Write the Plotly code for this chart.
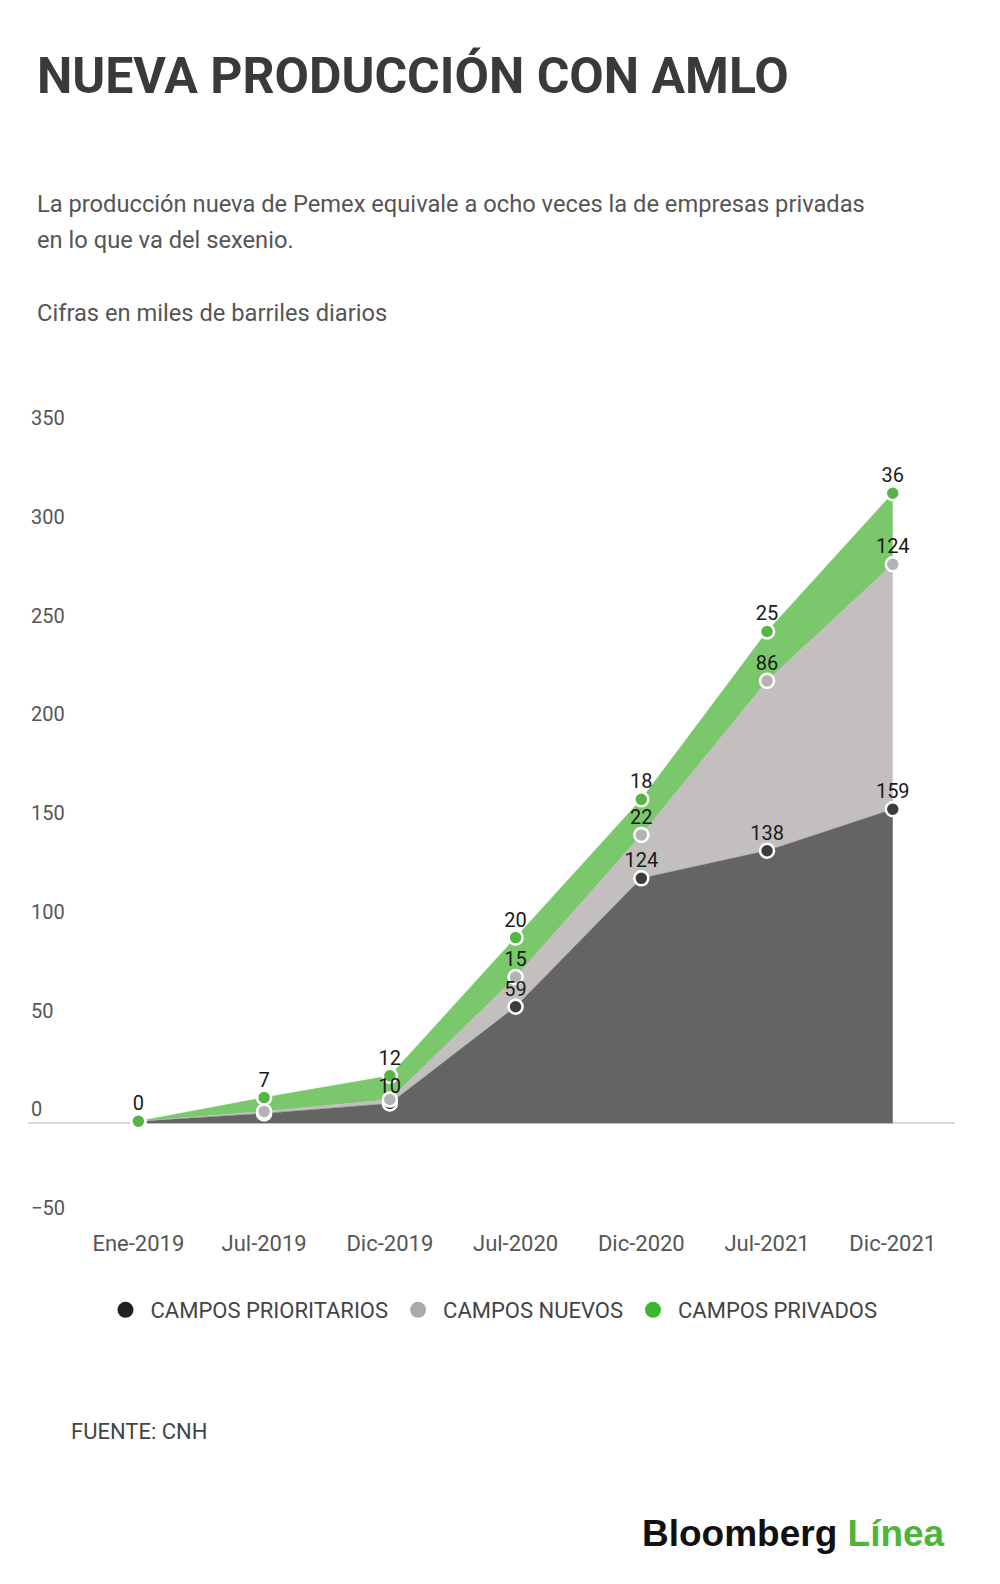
import plotly.graph_objects as go

months = ["Ene-2019", "Jul-2019", "Dic-2019", "Jul-2020", "Dic-2020", "Jul-2021", "Dic-2021"]
prioritarios = [1, 5, 10, 59, 124, 138, 159]
nuevos = [0, 1, 2, 15, 22, 86, 124]
privados = [0, 7, 12, 20, 18, 25, 36]

# labels that overlap in the original are left out
hidden = {
    "CAMPOS PRIORITARIOS": [0, 1],
    "CAMPOS NUEVOS": [0, 1, 2],
    "CAMPOS PRIVADOS": [],
}

series = [
    ("CAMPOS PRIORITARIOS", prioritarios, "#646464", "#3c3c3c", "#222222"),
    ("CAMPOS NUEVOS", nuevos, "#c3bfbf", "#b3b3b3", "#aaaaaa"),
    ("CAMPOS PRIVADOS", privados, "#7bc76c", "#55b546", "#3db52e"),
]

FONT = "Roboto"

fig = go.Figure()

for name, values, fill, marker, _ in series:
    fig.add_trace(
        go.Scatter(
            x=months,
            y=values,
            name=name,
            stackgroup="one",
            mode="lines+markers",
            line={"width": 0.5, "color": fill},
            fillcolor=fill,
            marker={"size": 14, "color": marker, "line": {"width": 2.5, "color": "white"}},
            showlegend=False,
            cliponaxis=False,
        )
    )

# value labels drawn on top of every marker
running = [0] * len(months)
for name, values, _, _, _ in series:
    running = [r + v for r, v in zip(running, values)]
    labels = ["" if i in hidden[name] else str(v) for i, v in enumerate(values)]
    fig.add_trace(
        go.Scatter(
            x=months,
            y=running,
            mode="markers+text",
            marker={"size": 8, "color": "rgba(0,0,0,0)"},
            text=labels,
            textposition="top center",
            textfont={"family": FONT, "size": 20, "color": "#1a1a1a"},
            showlegend=False,
            hoverinfo="skip",
            cliponaxis=False,
        )
    )

for name, _, _, _, legend_color in series:
    fig.add_trace(
        go.Scatter(
            x=[None],
            y=[None],
            name=name,
            mode="markers",
            marker={"size": 26, "color": legend_color},
        )
    )

fig.update_xaxes(
    type="category",
    range=[-0.878, 6.495],
    showgrid=False,
    showline=False,
    ticks="",
    ticklabelstandoff=6,
    tickfont={"family": FONT, "size": 22, "color": "#555555"},
)
fig.update_yaxes(
    range=[-50, 350],
    tickvals=[-50, 0, 50, 100, 150, 200, 250, 300, 350],
    showgrid=False,
    zeroline=True,
    zerolinecolor="#d9d9d9",
    zerolinewidth=1.5,
    ticks="",
    ticklabelposition="inside top",
    ticklabeloverflow="allow",
    tickfont={"family": FONT, "size": 20, "color": "#555555"},
)

fig.add_annotation(
    text="<b>NUEVA PRODUCCIÓN CON AMLO</b>",
    xref="paper", yref="paper", x=0.008, y=1.4506,
    xanchor="left", yanchor="middle", showarrow=False,
    font={"family": FONT, "size": 50, "color": "#3a3a3a"},
)
fig.add_annotation(
    text="La producción nueva de Pemex equivale a ocho veces la de empresas privadas",
    xref="paper", yref="paper", x=0.008, y=1.2886,
    xanchor="left", yanchor="middle", showarrow=False,
    font={"family": FONT, "size": 23.7, "color": "#555555"},
)
fig.add_annotation(
    text="en lo que va del sexenio.",
    xref="paper", yref="paper", x=0.008, y=1.2425,
    xanchor="left", yanchor="middle", showarrow=False,
    font={"family": FONT, "size": 23.7, "color": "#555555"},
)
fig.add_annotation(
    text="Cifras en miles de barriles diarios",
    xref="paper", yref="paper", x=0.008, y=1.1509,
    xanchor="left", yanchor="middle", showarrow=False,
    font={"family": FONT, "size": 23.7, "color": "#555555"},
)
fig.add_annotation(
    text="FUENTE: CNH",
    xref="paper", yref="paper", x=0.044, y=-0.265,
    xanchor="left", yanchor="middle", showarrow=False,
    font={"family": FONT, "size": 22, "color": "#444444"},
)
fig.add_annotation(
    text="<b>Bloomberg <span style='color:#4cb53a'>Línea</span></b>",
    xref="paper", yref="paper", x=0.991, y=-0.3944,
    xanchor="right", yanchor="middle", showarrow=False,
    font={"family": "Liberation Sans", "size": 37, "color": "#111111"},
)

fig.update_layout(
    width=1000,
    height=1584,
    margin={"l": 20, "r": 53, "t": 424, "b": 370},
    paper_bgcolor="white",
    plot_bgcolor="white",
    legend={
        "orientation": "h",
        "traceorder": "normal",
        "x": 0.5,
        "xanchor": "center",
        "y": -0.1114,
        "yanchor": "middle",
        "font": {"family": FONT, "size": 22, "color": "#444444"},
        "itemsizing": "trace",
        "itemwidth": 40,
    },
)

fig.write_html("out.html")
